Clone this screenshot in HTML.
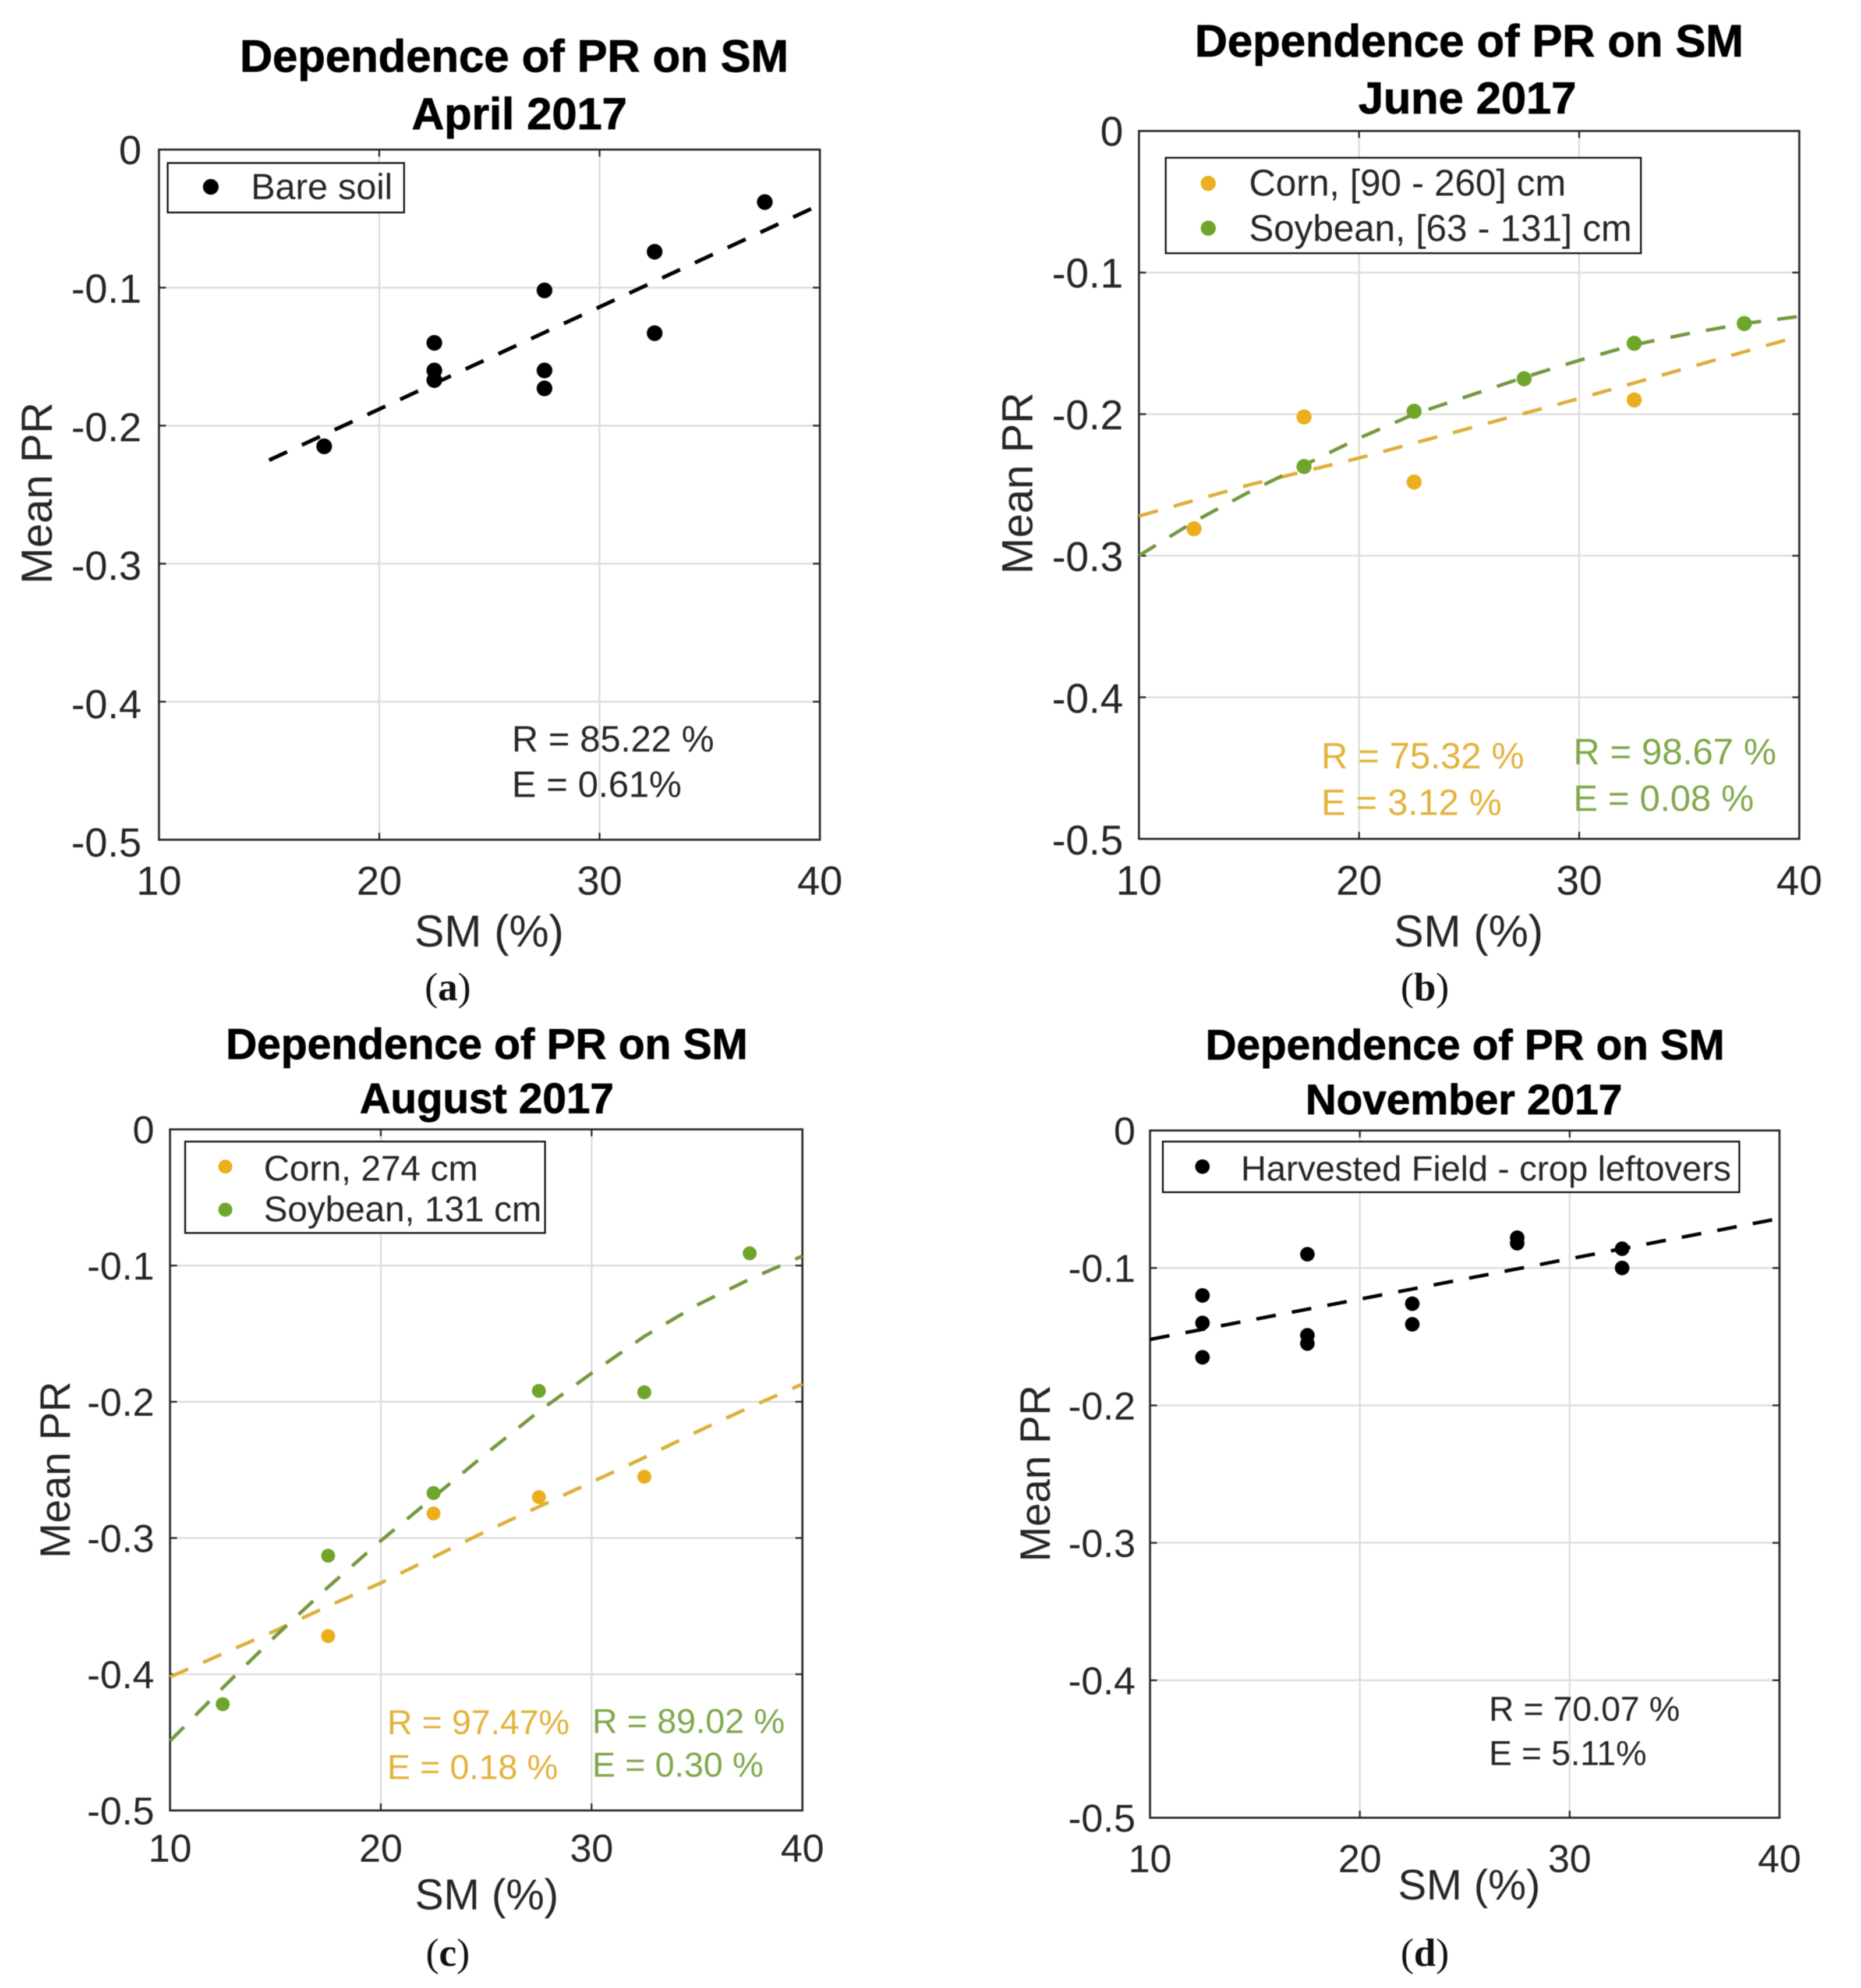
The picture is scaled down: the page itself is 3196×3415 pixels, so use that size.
<!DOCTYPE html>
<html lang="en">
<head>
<meta charset="utf-8">
<title>Dependence of PR on SM</title>
<style>
html,body{margin:0;padding:0;background:#fff}
svg{display:block;filter:blur(0.8px)}
text{font-family:"Liberation Sans",Arial,sans-serif;fill:#262626}
.title{font-weight:700;fill:#000;text-anchor:middle;stroke:#000;stroke-width:1}
.axis-label{text-anchor:middle}
.caption{font-family:"Liberation Serif","Times New Roman",serif;font-size:68px;fill:#111;text-anchor:middle}
.caption tspan{font-weight:700}
.orange{fill:#E3B23C}
.green{fill:#7FA84A}
.leg-box{fill:#fff;stroke:#111;stroke-width:3}
</style>
</head>
<body>
<svg id="figure" xmlns="http://www.w3.org/2000/svg" width="3196" height="3415" viewBox="0 0 3196 3415">
<rect width="3196" height="3415" fill="#fff"/>

<g id="panel-a">
  <g id="plot-a"></g>
  <text class="title" x="883" y="123" font-size="77.8">Dependence of PR on SM</text>
  <text class="title" x="892" y="222" font-size="77.4">April 2017</text>
  <text class="axis-label" x="840" y="1626" font-size="77">SM (%)</text>
  <text class="axis-label" transform="translate(89 847) rotate(-90)" font-size="75">Mean PR</text>
  <g>
    <rect class="leg-box" x="288" y="280" width="406" height="85"/>
    <circle cx="362" cy="321" r="13.5" fill="#000"/>
    <text x="431" y="342" font-size="62.5">Bare soil</text>
  </g>
  <text x="879" y="1291" font-size="62.8">R = 85.22 %</text>
  <text x="879" y="1369" font-size="62.8">E = 0.61%</text>
  <text class="caption" x="769" y="1718">(<tspan>a</tspan>)</text>
</g>

<g id="panel-b">
  <g id="plot-b"></g>
  <text class="title" x="2523" y="97" font-size="77.8">Dependence of PR on SM</text>
  <text class="title" x="2520" y="195" font-size="77.4">June 2017</text>
  <text class="axis-label" x="2522" y="1626" font-size="77">SM (%)</text>
  <text class="axis-label" transform="translate(1773 830) rotate(-90)" font-size="75">Mean PR</text>
  <g>
    <rect class="leg-box" x="2002" y="271" width="816" height="164"/>
    <circle cx="2075" cy="315" r="13" fill="#EBAE1E"/>
    <circle cx="2075" cy="392" r="13" fill="#6FA52A"/>
    <text x="2145" y="336" font-size="63.6">Corn, [90 - 260] cm</text>
    <text x="2145" y="414" font-size="63.6">Soybean, [63 - 131] cm</text>
  </g>
  <text class="orange" x="2269" y="1320" font-size="63">R = 75.32 %</text>
  <text class="orange" x="2269" y="1400" font-size="63">E = 3.12 %</text>
  <text class="green" x="2702" y="1313" font-size="63">R = 98.67 %</text>
  <text class="green" x="2702" y="1393" font-size="63">E = 0.08 %</text>
  <text class="caption" x="2447" y="1718">(<tspan>b</tspan>)</text>
</g>

<g id="panel-c">
  <g id="plot-c"></g>
  <text class="title" x="836" y="1819" font-size="74">Dependence of PR on SM</text>
  <text class="title" x="836" y="1912" font-size="73.4">August 2017</text>
  <text class="axis-label" x="836" y="3280" font-size="74">SM (%)</text>
  <text class="axis-label" transform="translate(120 2525) rotate(-90)" font-size="73">Mean PR</text>
  <g>
    <rect class="leg-box" x="318" y="1961" width="618" height="157"/>
    <circle cx="387" cy="2004" r="12" fill="#EBAE1E"/>
    <circle cx="387" cy="2078" r="12" fill="#6FA52A"/>
    <text x="453" y="2028" font-size="61.3">Corn, 274 cm</text>
    <text x="453" y="2098" font-size="61.3">Soybean, 131 cm</text>
  </g>
  <text class="orange" x="665" y="2979" font-size="59.6">R = 97.47%</text>
  <text class="orange" x="665" y="3056" font-size="59.6">E = 0.18 %</text>
  <text class="green" x="1017" y="2977" font-size="59.8">R = 89.02 %</text>
  <text class="green" x="1017" y="3052" font-size="59.8">E = 0.30 %</text>
  <text class="caption" x="769" y="3377">(<tspan>c</tspan>)</text>
</g>

<g id="panel-d">
  <g id="plot-d"></g>
  <text class="title" x="2516" y="1820" font-size="73.6">Dependence of PR on SM</text>
  <text class="title" x="2514" y="1914" font-size="73.6">November 2017</text>
  <text class="axis-label" x="2523" y="3263" font-size="73.4">SM (%)</text>
  <text class="axis-label" transform="translate(1803 2531) rotate(-90)" font-size="73">Mean PR</text>
  <g>
    <rect class="leg-box" x="1997" y="1961" width="990" height="87"/>
    <circle cx="2065" cy="2004" r="12.5" fill="#000"/>
    <text x="2131" y="2028" font-size="60.6">Harvested Field - crop leftovers</text>
  </g>
  <text x="2557" y="2956" font-size="59.3">R = 70.07 %</text>
  <text x="2557" y="3032" font-size="59.3">E = 5.11%</text>
  <text class="caption" x="2447" y="3377">(<tspan>d</tspan>)</text>
</g>
</svg>

<script>
// Shared axis values
const xTickValues = [10, 20, 30, 40];
const yTickValues = [0, -0.1, -0.2, -0.3, -0.4, -0.5];
const xTickLabels = ['10', '20', '30', '40'];
const yTickLabels = ['0', '-0.1', '-0.2', '-0.3', '-0.4', '-0.5'];

// Panel a: April 2017
const aBareX = [17.5, 22.5, 22.5, 22.5, 27.5, 27.5, 27.5, 32.5, 32.5, 37.5];
const aBareY = [-0.215, -0.14, -0.16, -0.167, -0.102, -0.16, -0.173, -0.074, -0.133, -0.038];
const aFitX = [15, 40];
const aFitY = [-0.225, -0.04];

// Panel b: June 2017
const bCornX = [12.5, 17.5, 22.5, 32.5];
const bCornY = [-0.281, -0.202, -0.248, -0.19];
const bSoyX = [17.5, 22.5, 27.5, 32.5, 37.5];
const bSoyY = [-0.237, -0.198, -0.175, -0.15, -0.136];
const bCornFitX = [10, 15, 20, 25, 30, 35, 40];
const bCornFitY = [-0.272, -0.25, -0.231, -0.21, -0.189, -0.167, -0.145];
const bSoyFitX = [10, 12.5, 15, 17.5, 20, 22.5, 25, 27.5, 30, 32.5, 35, 37.5, 40];
const bSoyFitY = [-0.3, -0.276, -0.255, -0.236, -0.217, -0.2, -0.187, -0.174, -0.162, -0.151, -0.143, -0.136, -0.131];

// Panel c: August 2017
const cCornX = [17.5, 22.5, 27.5, 32.5];
const cCornY = [-0.372, -0.282, -0.27, -0.255];
const cSoyX = [12.5, 17.5, 22.5, 27.5, 32.5, 37.5];
const cSoyY = [-0.422, -0.313, -0.267, -0.192, -0.193, -0.091];
const cCornFitX = [10, 12.5, 15, 17.5, 20, 22.5, 25, 27.5, 30, 32.5, 35, 37.5, 40];
const cCornFitY = [-0.402, -0.385, -0.368, -0.35, -0.333, -0.314, -0.295, -0.277, -0.259, -0.241, -0.222, -0.204, -0.187];
const cSoyFitX = [10, 12.5, 15, 17.5, 20, 22.5, 25, 27.5, 30, 32.5, 35, 37.5, 40];
const cSoyFitY = [-0.449, -0.41, -0.372, -0.336, -0.302, -0.27, -0.238, -0.207, -0.179, -0.152, -0.129, -0.11, -0.093];

// Panel d: November 2017
const dHarvestX = [12.5, 12.5, 12.5, 17.5, 17.5, 17.5, 22.5, 22.5, 27.5, 27.5, 32.5, 32.5];
const dHarvestY = [-0.12, -0.14, -0.165, -0.09, -0.149, -0.155, -0.126, -0.141, -0.078, -0.082, -0.086, -0.1];
const dFitX = [10, 40];
const dFitY = [-0.152, -0.064];

const NS = 'http://www.w3.org/2000/svg';
const ORANGE = '#EBAE1E';
const GREEN = '#6FA52A';
const ORANGE_LINE = '#DDAE3A';
const GREEN_LINE = '#73993F';
const BLACK = '#000';

function mk(parent, tag, attrs) {
  const el = document.createElementNS(NS, tag);
  for (const k in attrs) el.setAttribute(k, attrs[k]);
  parent.appendChild(el);
  return el;
}

function linear(d0, d1, r0, r1) {
  return function (v) { return r0 + (v - d0) / (d1 - d0) * (r1 - r0); };
}

function drawPanel(id, box, style, fits, scatters) {
  const root = document.getElementById('plot-' + id);
  const sx = linear(10, 40, box.left, box.right);
  const sy = linear(0, -0.5, box.top, box.bottom);

  xTickValues.forEach(function (v, i) {
    const x = sx(v);
    if (i > 0 && i < xTickValues.length - 1) {
      const g = mk(root, 'line', { x1: x, x2: x, y1: box.top, y2: box.bottom, stroke: '#dcdcdc', 'stroke-width': 3 });
      
      
    }
    const t1 = mk(root, 'line', { x1: x, x2: x, y1: box.bottom, y2: box.bottom - 12, stroke: '#262626', 'stroke-width': 3 });
    
    
    const t2 = mk(root, 'line', { x1: x, x2: x, y1: box.top, y2: box.top + 12, stroke: '#262626', 'stroke-width': 3 });
    
    
    const lab = mk(root, 'text', { x: x, y: style.xTickY, 'font-size': style.tickFont, 'text-anchor': 'middle' });
    lab.textContent = xTickLabels[i];
    
    
  });

  yTickValues.forEach(function (v, i) {
    const y = sy(v);
    if (i > 0 && i < yTickValues.length - 1) {
      const g = mk(root, 'line', { x1: box.left, x2: box.right, y1: y, y2: y, stroke: '#dcdcdc', 'stroke-width': 3 });
      
      
    }
    const t1 = mk(root, 'line', { x1: box.left, x2: box.left + 12, y1: y, y2: y, stroke: '#262626', 'stroke-width': 3 });
    
    
    const t2 = mk(root, 'line', { x1: box.right, x2: box.right - 12, y1: y, y2: y, stroke: '#262626', 'stroke-width': 3 });
    
    
    const lab = mk(root, 'text', { x: style.yTickX, y: y + style.tickFont * 0.36 + style.yLabelDrift * i, 'font-size': style.tickFont, 'text-anchor': 'end' });
    lab.textContent = yTickLabels[i];
    
    
  });

  const frame = mk(root, 'rect', { x: box.left, y: box.top, width: box.right - box.left, height: box.bottom - box.top, fill: 'none', stroke: '#262626', 'stroke-width': 3.5 });
  
  

  fits.forEach(function (f) {
    const pts = f.xs.map(function (x, i) { return sx(x).toFixed(1) + ',' + sy(f.ys[i]).toFixed(1); }).join(' ');
    const line = mk(root, 'polyline', { points: pts, fill: 'none', stroke: f.color, 'stroke-width': f.width, 'stroke-dasharray': '34 28', 'stroke-linejoin': 'round' });
    
    
  });

  scatters.forEach(function (s) {
    s.xs.forEach(function (x, i) {
      const c = mk(root, 'circle', { cx: sx(x), cy: sy(s.ys[i]), r: style.r, fill: s.color });
      
      
    });
  });
}

drawPanel('a', { left: 273, right: 1408, top: 257, bottom: 1442.5 },
  { xTickY: 1537, yTickX: 243, tickFont: 70, yLabelDrift: 0.8, r: 13.5 },
  [{ xs: aFitX, ys: aFitY, color: BLACK, width: 6.5, name: 'bare-soil' }],
  [{ xs: aBareX, ys: aBareY, color: BLACK, name: 'bare-soil' }]);

drawPanel('b', { left: 1956, right: 3090, top: 225, bottom: 1441 },
  { xTickY: 1537, yTickX: 1929, tickFont: 71, yLabelDrift: 0.3, r: 13 },
  [{ xs: bCornFitX, ys: bCornFitY, color: ORANGE_LINE, width: 6, name: 'corn-b' },
   { xs: bSoyFitX, ys: bSoyFitY, color: GREEN_LINE, width: 6, name: 'soybean-b' }],
  [{ xs: bCornX, ys: bCornY, color: ORANGE, name: 'corn-b' },
   { xs: bSoyX, ys: bSoyY, color: GREEN, name: 'soybean-b' }]);

drawPanel('c', { left: 292, right: 1378, top: 1940, bottom: 3110 },
  { xTickY: 3198, yTickX: 265, tickFont: 67, yLabelDrift: 0, r: 12 },
  [{ xs: cCornFitX, ys: cCornFitY, color: ORANGE_LINE, width: 6, name: 'corn-c' },
   { xs: cSoyFitX, ys: cSoyFitY, color: GREEN_LINE, width: 6, name: 'soybean-c' }],
  [{ xs: cCornX, ys: cCornY, color: ORANGE, name: 'corn-c' },
   { xs: cSoyX, ys: cSoyY, color: GREEN, name: 'soybean-c' }]);

drawPanel('d', { left: 1975, right: 3056, top: 1942, bottom: 3122.5 },
  { xTickY: 3216, yTickX: 1950, tickFont: 67, yLabelDrift: 0, r: 12.5 },
  [{ xs: dFitX, ys: dFitY, color: BLACK, width: 6, name: 'harvested' }],
  [{ xs: dHarvestX, ys: dHarvestY, color: BLACK, name: 'harvested' }]);
</script>
</body>
</html>
